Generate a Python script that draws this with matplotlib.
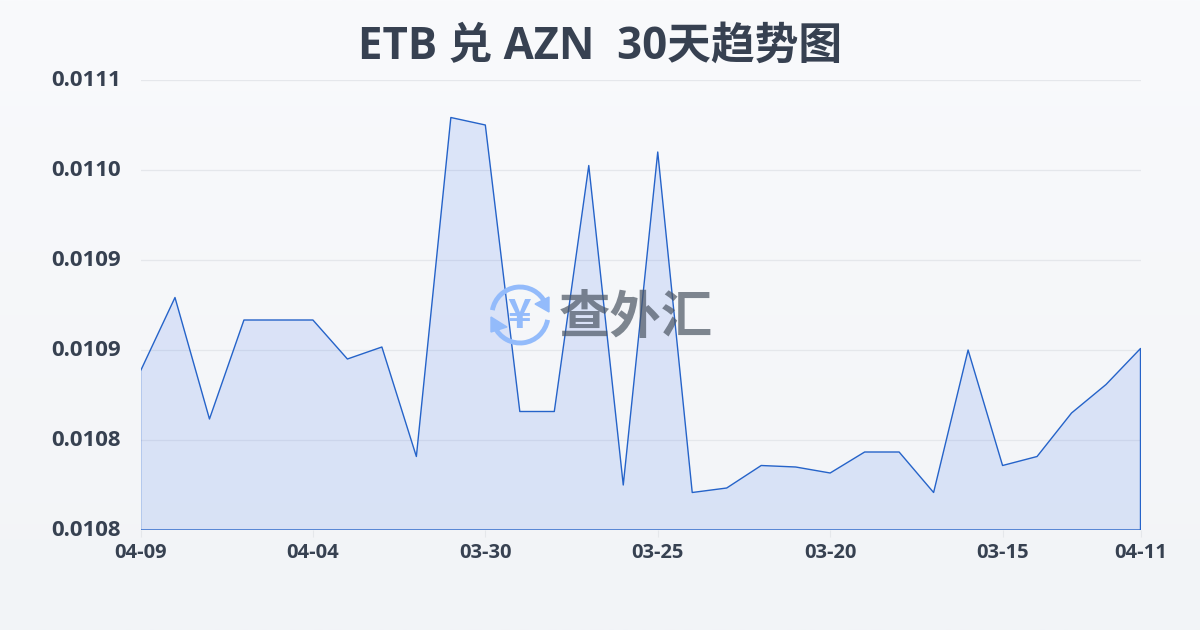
import numpy as np
import matplotlib
matplotlib.use('Agg')
import matplotlib.pyplot as plt
from matplotlib.patches import Arc, Polygon
from matplotlib.transforms import ScaledTranslation

plt.rcParams['font.family'] = ['Open Sans', 'Noto Sans CJK SC', 'DejaVu Sans']

# Data
values = [0.010856, 0.010905, 0.010824, 0.010890, 0.010890, 0.010890, 0.010864, 0.010872,
          0.010799, 0.011025, 0.011020, 0.010829, 0.010829, 0.010993, 0.010780, 0.011002,
          0.010775, 0.010778, 0.010793, 0.010792, 0.010788, 0.010802, 0.010802, 0.010775,
          0.010870, 0.010793, 0.010799, 0.010828, 0.010847, 0.010871]
xtick_pos = [0, 5, 10, 15, 20, 25, 29]
xtick_labels = ['04-09', '04-04', '03-30', '03-25', '03-20', '03-15', '04-11']
ytick_vals = [0.01075, 0.01081, 0.01087, 0.01093, 0.01099, 0.01105]
ytick_labels = ['0.0108', '0.0108', '0.0109', '0.0109', '0.0110', '0.0111']

text_col = '#374151'
line_col = '#2563c9'
wm_blue = '#93bbfb'

fig = plt.figure(figsize=(12, 6.3), dpi=100)

# Background gradient
bg = fig.add_axes([0, 0, 1, 1], zorder=0)
bg.imshow(np.linspace(0, 1, 256).reshape(-1, 1), aspect='auto', extent=[0, 1200, 630, 0],
          cmap=matplotlib.colors.LinearSegmentedColormap.from_list('bg', ['#f9fafc', '#f2f4f7']))
bg.axis('off')

# Main chart
ax = fig.add_axes([140.5 / 1200, 1 - 530 / 630, 1000 / 1200, 450 / 630], zorder=1)
ax.patch.set_alpha(0)
x = np.arange(len(values))
ax.fill_between(x, values, ytick_vals[0], facecolor='#2563eb', alpha=0.13, lw=0, zorder=2)
ax.fill_between(x, values, ytick_vals[0], facecolor='none', edgecolor=line_col, lw=1.0, zorder=3)
ax.set_xlim(0, len(values) - 1)
ax.set_ylim(ytick_vals[0], ytick_vals[-1])
ax.set_yticks(ytick_vals)
ax.set_yticklabels(ytick_labels, fontsize=16, fontweight='bold', color=text_col)
ax.set_xticks(xtick_pos)
ax.set_xticklabels(xtick_labels, fontsize=14.5, fontweight='bold', color=text_col)
ax.tick_params(axis='y', length=0, pad=14)
ax.tick_params(axis='x', length=5, color='#e5e7eb', pad=4)
ax.grid(axis='y', color='#e5e7eb', lw=0.9, zorder=1)
ax.set_axisbelow(True)
for s in ax.spines.values():
    s.set_visible(False)
# y labels sit a little above their grid lines
for lab in ax.get_yticklabels():
    lab.set_transform(lab.get_transform() + ScaledTranslation(0, 2 / 100, fig.dpi_scale_trans))

fig.text(0.5, 1 - 47 / 630, 'ETB 兑 AZN  30天趋势图', ha='center', va='center',
         fontsize=31.5, fontweight='bold', color=text_col)

# Watermark, in pixel coordinates
wm = fig.add_axes([0, 0, 1, 1], zorder=2)
wm.set_xlim(0, 1200)
wm.set_ylim(630, 0)
wm.axis('off')
wm.patch.set_alpha(0)
wm.add_patch(Arc((520, 315), 56, 56, theta1=190, theta2=335, color=wm_blue, lw=3.5))
wm.add_patch(Arc((520, 315), 56, 56, theta1=10, theta2=155, color=wm_blue, lw=3.5))
wm.add_patch(Polygon([(549, 297), (549, 312), (535, 304)], color=wm_blue))
wm.add_patch(Polygon([(491, 317), (491, 332), (507, 327)], color=wm_blue))
wm.text(519, 316, '¥', ha='center', va='center', fontsize=29, fontweight='bold', color=wm_blue,
        family=['Noto Sans CJK SC', 'DejaVu Sans'])
wm.text(636, 317, '查外汇', ha='center', va='center', fontsize=37, fontweight='bold',
        color='#4b5563', alpha=0.7, family=['Noto Sans CJK SC', 'DejaVu Sans'])

fig.savefig('out.png', dpi=100)
